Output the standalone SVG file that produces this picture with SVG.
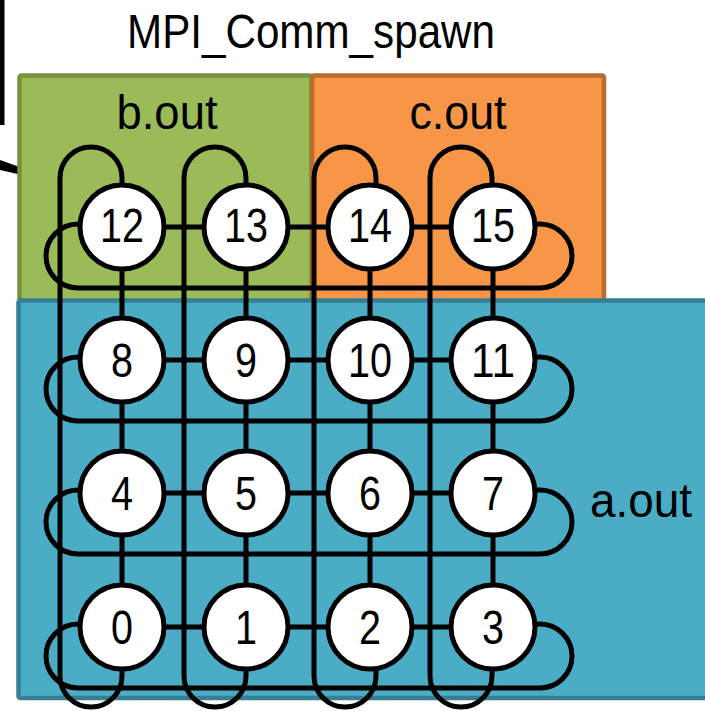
<svg xmlns="http://www.w3.org/2000/svg" width="705" height="711" viewBox="0 0 705 711">
<style>
.lbl{font-family:"Liberation Sans",Arial,sans-serif;font-size:49px;fill:#000;text-anchor:middle}
.num{font-family:"Liberation Sans",Arial,sans-serif;font-size:49px;fill:#000;text-anchor:middle}
.node circle{fill:#fff;stroke:#000;stroke-width:5}
.conn path,.conn line{fill:none;stroke:#000;stroke-width:5}
</style>
<rect width="705" height="711" fill="#fff"/>
<g id="callout">
<line x1="2" y1="0" x2="2" y2="125" stroke="#000" stroke-width="5"/>
<polygon points="0,160 31,171 33,174 31,177 0,170" fill="#000"/>
</g>
<text class="lbl" x="311" y="48" textLength="368" lengthAdjust="spacingAndGlyphs">MPI_Comm_spawn</text>
<g id="b_out">
<rect x="19.5" y="75.5" width="292" height="235" rx="2" fill="#9BBB59" stroke="#76923C" stroke-width="4.5"/>
<text class="lbl" x="167" y="129" textLength="101" lengthAdjust="spacingAndGlyphs">b.out</text>
</g>
<g id="c_out">
<rect x="312" y="75.5" width="292" height="235" rx="2" fill="#F79646" stroke="#B66D31" stroke-width="4.5"/>
<text class="lbl" x="458" y="129" textLength="97" lengthAdjust="spacingAndGlyphs">c.out</text>
</g>
<g id="a_out">
<rect x="18.5" y="300.5" width="700" height="397.5" rx="2" fill="#4BACC6" stroke="#367F92" stroke-width="4.5"/>
<text class="lbl" x="641" y="517" textLength="102" lengthAdjust="spacingAndGlyphs">a.out</text>
</g>
<g id="connectors" class="conn">
<path d="M122,200 L122,178 A31,31 0 0 0 60,178 L60,676 A31,31 0 0 0 122,676 L122,655"/>
<path d="M246,200 L246,178 A31,31 0 0 0 184,178 L184,676 A31,31 0 0 0 246,676 L246,655"/>
<path d="M376,200 L376,178 A31,31 0 0 0 314,178 L314,676 A31,31 0 0 0 376,676 L376,655"/>
<path d="M492,200 L492,178 A31,31 0 0 0 430,178 L430,676 A31,31 0 0 0 492,676 L492,655"/>
<path d="M100,224 L78,224 A32,32 0 0 0 78,288 L540,288 A32,32 0 0 0 540,224 L515,224"/>
<path d="M100,357 L78,357 A32,32 0 0 0 78,421 L540,421 A32,32 0 0 0 540,357 L515,357"/>
<path d="M100,490 L78,490 A32,32 0 0 0 78,554 L540,554 A32,32 0 0 0 540,490 L515,490"/>
<path d="M100,624 L78,624 A32,32 0 0 0 78,688 L540,688 A32,32 0 0 0 540,624 L515,624"/>
<line x1="164" y1="227" x2="204" y2="227"/><line x1="288" y1="227" x2="328" y2="227"/><line x1="412" y1="227" x2="451" y2="227"/>
<line x1="164" y1="360" x2="204" y2="360"/><line x1="288" y1="360" x2="328" y2="360"/><line x1="412" y1="360" x2="451" y2="360"/>
<line x1="164" y1="493" x2="204" y2="493"/><line x1="288" y1="493" x2="328" y2="493"/><line x1="412" y1="493" x2="451" y2="493"/>
<line x1="164" y1="627" x2="204" y2="627"/><line x1="288" y1="627" x2="328" y2="627"/><line x1="412" y1="627" x2="451" y2="627"/>
<line x1="122" y1="269" x2="122" y2="318"/><line x1="122" y1="402" x2="122" y2="451"/><line x1="122" y1="535" x2="122" y2="585"/>
<line x1="246" y1="269" x2="246" y2="318"/><line x1="246" y1="402" x2="246" y2="451"/><line x1="246" y1="535" x2="246" y2="585"/>
<line x1="370" y1="269" x2="370" y2="318"/><line x1="370" y1="402" x2="370" y2="451"/><line x1="370" y1="535" x2="370" y2="585"/>
<line x1="493" y1="269" x2="493" y2="318"/><line x1="493" y1="402" x2="493" y2="451"/><line x1="493" y1="535" x2="493" y2="585"/>
</g>
<g id="n12" class="node"><circle cx="122" cy="227" r="42"/><text class="num" x="122" y="242" textLength="44" lengthAdjust="spacingAndGlyphs">12</text></g>
<g id="n13" class="node"><circle cx="246" cy="227" r="42"/><text class="num" x="246" y="242" textLength="44" lengthAdjust="spacingAndGlyphs">13</text></g>
<g id="n14" class="node"><circle cx="370" cy="227" r="42"/><text class="num" x="370" y="242" textLength="44" lengthAdjust="spacingAndGlyphs">14</text></g>
<g id="n15" class="node"><circle cx="493" cy="227" r="42"/><text class="num" x="493" y="242" textLength="44" lengthAdjust="spacingAndGlyphs">15</text></g>
<g id="n8" class="node"><circle cx="122" cy="360" r="42"/><text class="num" x="122" y="377" textLength="22" lengthAdjust="spacingAndGlyphs">8</text></g>
<g id="n9" class="node"><circle cx="246" cy="360" r="42"/><text class="num" x="246" y="377" textLength="22" lengthAdjust="spacingAndGlyphs">9</text></g>
<g id="n10" class="node"><circle cx="370" cy="360" r="42"/><text class="num" x="370" y="377" textLength="44" lengthAdjust="spacingAndGlyphs">10</text></g>
<g id="n11" class="node"><circle cx="493" cy="360" r="42"/><text class="num" x="493" y="377" textLength="44" lengthAdjust="spacingAndGlyphs">11</text></g>
<g id="n4" class="node"><circle cx="122" cy="493" r="42"/><text class="num" x="122" y="510" textLength="22" lengthAdjust="spacingAndGlyphs">4</text></g>
<g id="n5" class="node"><circle cx="246" cy="493" r="42"/><text class="num" x="246" y="510" textLength="22" lengthAdjust="spacingAndGlyphs">5</text></g>
<g id="n6" class="node"><circle cx="370" cy="493" r="42"/><text class="num" x="370" y="510" textLength="22" lengthAdjust="spacingAndGlyphs">6</text></g>
<g id="n7" class="node"><circle cx="493" cy="493" r="42"/><text class="num" x="493" y="510" textLength="22" lengthAdjust="spacingAndGlyphs">7</text></g>
<g id="n0" class="node"><circle cx="122" cy="627" r="42"/><text class="num" x="122" y="644" textLength="22" lengthAdjust="spacingAndGlyphs">0</text></g>
<g id="n1" class="node"><circle cx="246" cy="627" r="42"/><text class="num" x="246" y="644" textLength="22" lengthAdjust="spacingAndGlyphs">1</text></g>
<g id="n2" class="node"><circle cx="370" cy="627" r="42"/><text class="num" x="370" y="644" textLength="22" lengthAdjust="spacingAndGlyphs">2</text></g>
<g id="n3" class="node"><circle cx="493" cy="627" r="42"/><text class="num" x="493" y="644" textLength="22" lengthAdjust="spacingAndGlyphs">3</text></g>
</svg>
